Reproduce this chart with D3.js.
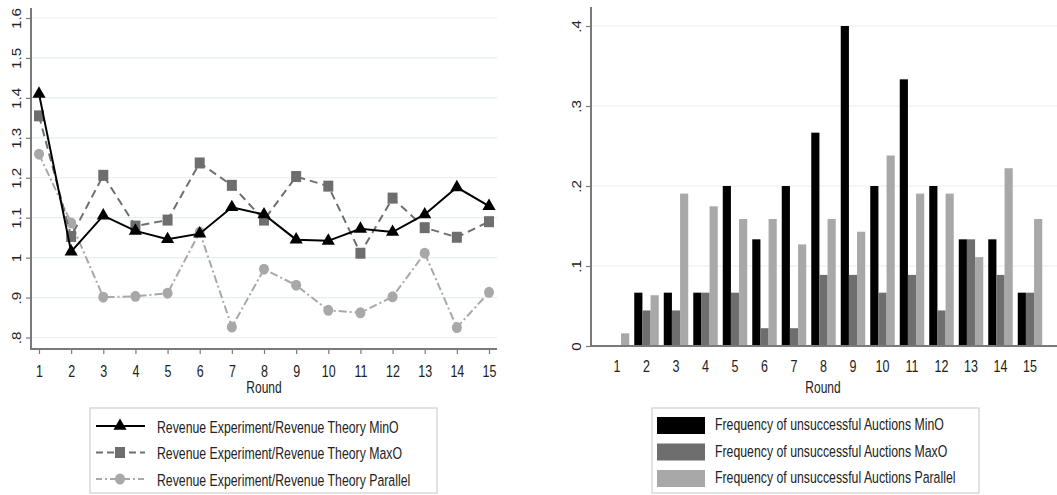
<!DOCTYPE html>
<html><head><meta charset="utf-8">
<script src="https://cdn.jsdelivr.net/npm/d3@7"></script>
<style>
body{margin:0;background:#fff;}
svg{display:block;font-family:"Liberation Sans",Arial,sans-serif;}
</style></head>
<body>
<svg id="c" width="1057" height="495"></svg>
<script>
const rounds = [1,2,3,4,5,6,7,8,9,10,11,12,13,14,15];
// Left panel: Revenue Experiment / Revenue Theory
const revMinO     = [1.41,1.015,1.105,1.067,1.046,1.06,1.126,1.108,1.045,1.042,1.072,1.064,1.108,1.176,1.129];
const revMaxO     = [1.355,1.053,1.206,1.079,1.094,1.237,1.181,1.094,1.203,1.179,1.011,1.149,1.075,1.051,1.09];
const revParallel = [1.259,1.087,0.901,0.903,0.911,1.064,0.826,0.971,0.931,0.868,0.862,0.902,1.011,0.825,0.913];
const leftTicks = [0.8,0.9,1.0,1.1,1.2,1.3,1.4,1.5,1.6];
const leftLabels = ["Revenue Experiment/Revenue Theory MinO","Revenue Experiment/Revenue Theory MaxO","Revenue Experiment/Revenue Theory Parallel"];
// Right panel: Frequency of unsuccessful auctions
const freqMinO     = [0,1/15,1/15,1/15,3/15,2/15,3/15,4/15,6/15,3/15,5/15,3/15,2/15,2/15,1/15];
const freqMaxO     = [0,2/45,2/45,3/45,3/45,1/45,1/45,4/45,4/45,3/45,4/45,2/45,6/45,4/45,3/45];
const freqParallel = [1/63,4/63,12/63,11/63,10/63,10/63,8/63,10/63,9/63,15/63,12/63,12/63,7/63,14/63,10/63];
const rightTicks = [0,0.1,0.2,0.3,0.4];
const rightLabels = ["Frequency of unsuccessful Auctions MinO","Frequency of unsuccessful Auctions MaxO","Frequency of unsuccessful Auctions Parallel"];

const svg = d3.select("#c");
const fmt = v => { let s = d3.format(".1f")(v); s = s.replace(/\.0$/,""); s = s.replace(/^0\./,"."); return s; };
const gridCol = "#e6eeee", axisCol = "#7a7a7a", txtCol = "#222";
const cMin = "#000000", cMax = "#6e6e6e", cPar = "#a8a8a8";
const SY = 1.32; // vertical stretch of the text in the original picture

// horizontal text with vertical stretch
const htext = (g, x, y, t, size, anchor) => g.append("text")
  .attr("transform",`translate(${x},${y}) scale(1,${SY})`)
  .attr("font-size",size).attr("fill",txtCol).attr("text-anchor",anchor||"start").text(t);

const styleYTicks = (ax) => {
  ax.select(".domain").remove();
  ax.selectAll(".tick line").attr("stroke",axisCol).attr("stroke-width",1.2);
  ax.selectAll(".tick text").attr("transform","rotate(-90) scale(1.17,1)").attr("x",0).attr("y",-10)
    .attr("dy","0").attr("text-anchor","middle").attr("font-size",13).attr("fill",txtCol)
    .attr("font-family","Liberation Sans, Arial, sans-serif");
};
const styleXTicks = (ax, base) => {
  ax.select(".domain").remove();
  ax.selectAll(".tick line").attr("stroke",axisCol).attr("stroke-width",1.2);
  ax.selectAll(".tick text").attr("y",0).attr("dy","0").attr("transform",`translate(0,${base}) scale(1,${SY})`)
    .attr("font-size",12.5).attr("fill",txtCol).attr("font-family","Liberation Sans, Arial, sans-serif");
};

// ---------- LEFT ----------
const xL = d3.scaleLinear().domain([1,15]).range([39,489]);
const yL = d3.scaleLinear().domain([0.8,1.6]).range([337.5,18]);
const gL = svg.append("g");
gL.selectAll("line.grid").data(leftTicks).join("line")
  .attr("x1",32).attr("x2",497).attr("y1",d=>yL(d)).attr("y2",d=>yL(d))
  .attr("stroke",gridCol).attr("stroke-width",1.2);
const ayL = gL.append("g").attr("transform","translate(31,0)")
  .call(d3.axisLeft(yL).tickValues(leftTicks).tickSize(5).tickFormat(fmt));
styleYTicks(ayL);
gL.append("line").attr("x1",31).attr("x2",31).attr("y1",8).attr("y2",349.5).attr("stroke",axisCol).attr("stroke-width",2);
const axL = gL.append("g").attr("transform","translate(0,349)")
  .call(d3.axisBottom(xL).tickValues(rounds).tickSize(5).tickFormat(d3.format("d")));
styleXTicks(axL, 28);
gL.append("line").attr("x1",30).attr("x2",497).attr("y1",349).attr("y2",349).attr("stroke",axisCol).attr("stroke-width",2);
htext(gL, 264, 393, "Round", 12, "middle");

const line = d3.line().x((d,i)=>xL(rounds[i])).y(d=>yL(d));
const series = [
  {v:revMinO, c:cMin, dash:null, m:"tri"},
  {v:revMaxO, c:cMax, dash:"8,5", m:"sq"},
  {v:revParallel, c:cPar, dash:"8,3,2,3", m:"circ"}
];
const drawMarker = (g, type, x, y, c) => {
  if (type==="tri") g.append("path").attr("d",d3.symbol(d3.symbolTriangle,75)()).attr("transform",`translate(${x},${y})`).attr("fill",c);
  else if (type==="sq") g.append("rect").attr("x",x-5).attr("y",y-5.5).attr("width",10).attr("height",11).attr("fill",c);
  else g.append("ellipse").attr("cx",x).attr("cy",y).attr("rx",5).attr("ry",5.5).attr("fill",c);
};
[2,1,0].forEach(k=>{
  const s = series[k];
  gL.append("path").datum(s.v).attr("d",line).attr("fill","none").attr("stroke",s.c)
    .attr("stroke-width",2).attr("stroke-dasharray",s.dash);
  s.v.forEach((d,i)=>drawMarker(gL,s.m,xL(rounds[i]),yL(d),s.c));
});

// left legend
const lgL = svg.append("g");
lgL.append("rect").attr("x",90).attr("y",408).attr("width",347).attr("height",85).attr("fill","#fff").attr("stroke","#cfcfcf").attr("stroke-width",1.2);
leftLabels.forEach((t,i)=>{
  const y = 426 + i*26.5, s = series[i];
  lgL.append("line").attr("x1",96).attr("x2",145).attr("y1",y).attr("y2",y).attr("stroke",s.c).attr("stroke-width",2)
    .attr("stroke-dasharray", i===1?"7,4":(i===2?"6,3,2,3":null));
  drawMarker(lgL,s.m,120,y,s.c);
  htext(lgL, 157, y+6.5, t, 12.3);
});

// ---------- RIGHT ----------
const x0 = d3.scaleBand().domain(rounds).range([602.25,1044.75]).paddingInner(0.17).paddingOuter(0.085);
const x1 = d3.scaleBand().domain([0,1,2]).range([0,x0.bandwidth()]);
const yR = d3.scaleLinear().domain([0,0.4]).range([346,26]);
const gR = svg.append("g");
gR.selectAll("line.grid").data(rightTicks.slice(1)).join("line")
  .attr("x1",592).attr("x2",1057).attr("y1",d=>yR(d)).attr("y2",d=>yR(d))
  .attr("stroke",gridCol).attr("stroke-width",1.2);
const ayR = gR.append("g").attr("transform","translate(591,0)")
  .call(d3.axisLeft(yR).tickValues(rightTicks).tickSize(5).tickFormat(fmt));
styleYTicks(ayR);

const bars = [freqMinO,freqMaxO,freqParallel], bcols=[cMin,cMax,cPar];
bars.forEach((arr,k)=>{
  gR.selectAll(null).data(arr).join("rect")
    .attr("x",(d,i)=>x0(rounds[i])+x1(k)).attr("width",x1.bandwidth())
    .attr("y",d=>yR(d)).attr("height",d=>yR(0)-yR(d)).attr("fill",bcols[k]);
});
gR.append("line").attr("x1",591).attr("x2",591).attr("y1",7).attr("y2",347).attr("stroke",axisCol).attr("stroke-width",2);
gR.append("line").attr("x1",590).attr("x2",1057).attr("y1",346).attr("y2",346).attr("stroke",axisCol).attr("stroke-width",2);
const axR = gR.append("g").attr("transform","translate(0,346)")
  .call(d3.axisBottom(x0).tickSize(0).tickFormat(d3.format("d")));
styleXTicks(axR, 26);
htext(gR, 823, 393, "Round", 12, "middle");

// right legend
const lgR = svg.append("g");
lgR.append("rect").attr("x",652).attr("y",408).attr("width",327).attr("height",85).attr("fill","#fff").attr("stroke","#cfcfcf").attr("stroke-width",1.2);
rightLabels.forEach((t,i)=>{
  const y = 425.5 + i*26.5;
  lgR.append("rect").attr("x",657).attr("y",y-8.5).attr("width",48).attr("height",17).attr("fill",bcols[i]);
  htext(lgR, 715, y+4.5, t, 12.3);
});
</script>
</body></html>
